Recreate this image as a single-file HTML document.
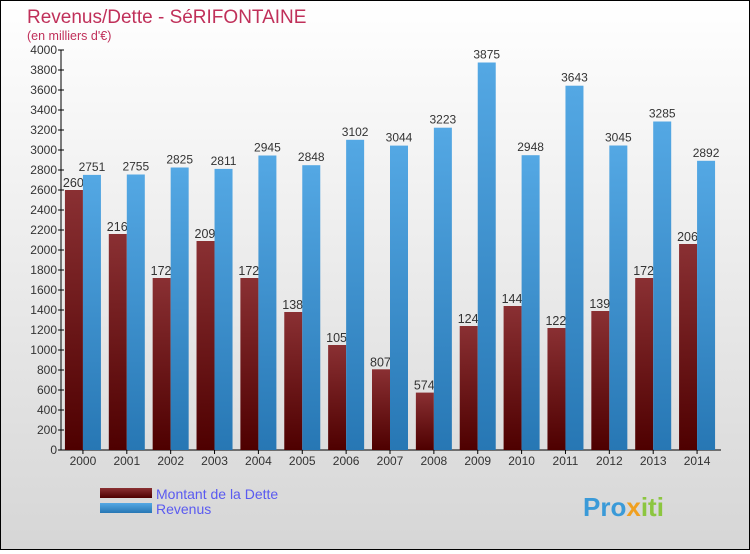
<!DOCTYPE html>
<html><head><meta charset="utf-8"><style>
html,body{margin:0;padding:0}
body{width:750px;height:550px;overflow:hidden;font-family:"Liberation Sans",sans-serif}
#wrap{position:relative;width:748px;height:548px;border:1px solid #000;background:linear-gradient(#ffffff,#d6d6d6)}
</style></head><body>
<div id="wrap">
<svg id="chart" width="748" height="548">
<defs>
<linearGradient id="gd" x1="0" y1="0" x2="0" y2="1"><stop offset="0" stop-color="#8a3033"/><stop offset="1" stop-color="#4e0000"/></linearGradient>
<linearGradient id="gr" x1="0" y1="0" x2="0" y2="1"><stop offset="0" stop-color="#54a8e4"/><stop offset="1" stop-color="#2777b4"/></linearGradient>
</defs>
<text x="26" y="22" font-size="19" fill="#c0305a">Revenus/Dette - SéRIFONTAINE</text>
<text x="26" y="39" font-size="12.5" fill="#c0305a">(en milliers d'€)</text>
<g id="axes"></g><g id="bars"></g>
<rect x="99" y="487" width="52" height="10" fill="url(#gd)"/>
<rect x="99" y="502" width="52" height="10" fill="url(#gr)"/>
<text x="155" y="498" font-size="14" fill="#5a5af0">Montant de la Dette</text>
<text x="155" y="513" font-size="14" fill="#5a5af0">Revenus</text>
<text x="582" y="515" font-size="26" font-weight="bold" fill="#3a9ad8">Pro<tspan fill="#f0a020">x</tspan><tspan fill="#8cc63f">iti</tspan></text>
</svg></div>
<script>
const years=["2000","2001","2002","2003","2004","2005","2006","2007","2008","2009","2010","2011","2012","2013","2014"];
const dette=[2600,2160,1720,2090,1720,1380,1050,807,574,1240,1440,1220,1390,1720,2060];
const revenus=[2751,2755,2825,2811,2945,2848,3102,3044,3223,3875,2948,3643,3045,3285,2892];
const yTicks=[0,200,400,600,800,1000,1200,1400,1600,1800,2000,2200,2400,2600,2800,3000,3200,3400,3600,3800,4000];
const NS="http://www.w3.org/2000/svg";
const x0=60,x1=718,yTop=49,yBot=449,yMax=4000;
const step=(x1-x0)/years.length;
const y=v=>yBot-(v/yMax)*(yBot-yTop);
const cx=i=>x0+step*(i+0.5);
function mk(t,a,p){const e=document.createElementNS(NS,t);for(const k in a)e.setAttribute(k,a[k]);p.appendChild(e);return e;}
const ax=document.getElementById('axes'),bg=document.getElementById('bars');
const yl=mk('line',{x1:x0,y1:yTop,x2:x0,y2:yBot,stroke:'#000'},ax);


const xl=mk('line',{x1:x0,y1:yBot,x2:x1+2,y2:yBot,stroke:'#000'},ax);


yTicks.forEach(v=>{
 mk('line',{x1:x0-3,y1:y(v),x2:x0+3,y2:y(v),stroke:'#000'},ax);
 const t=mk('text',{x:x0-4,y:y(v)+4,'font-size':12,'text-anchor':'end',fill:'#333'},ax);
 t.textContent=v;
 
 
});
years.forEach((yr,i)=>{
 const c=cx(i),w=18;
 mk('line',{x1:c,y1:yBot,x2:c,y2:yBot+4,stroke:'#000'},ax);
 const t=mk('text',{x:c,y:yBot+15,'font-size':12,'text-anchor':'middle',fill:'#333'},ax);
 t.textContent=yr;
 
 
 const d=mk('rect',{x:c-w,y:y(dette[i]),width:w,height:yBot-y(dette[i]),fill:'url(#gd)'},bg);
 
 
 const dl=mk('text',{x:c-w-2,y:y(dette[i])-3,'font-size':12.5,'text-anchor':'start',fill:'#333'},bg);
 dl.textContent=dette[i];
 
 
});
years.forEach((yr,i)=>{
 const c=cx(i),w=18;
 const r=mk('rect',{x:c,y:y(revenus[i]),width:w,height:yBot-y(revenus[i]),fill:'url(#gr)'},bg);
 
 
 const rl=mk('text',{x:c+w/2,y:y(revenus[i])-4,'font-size':12,'text-anchor':'middle',fill:'#333'},bg);
 rl.textContent=revenus[i];
 
 
});
</script>
</body></html>
